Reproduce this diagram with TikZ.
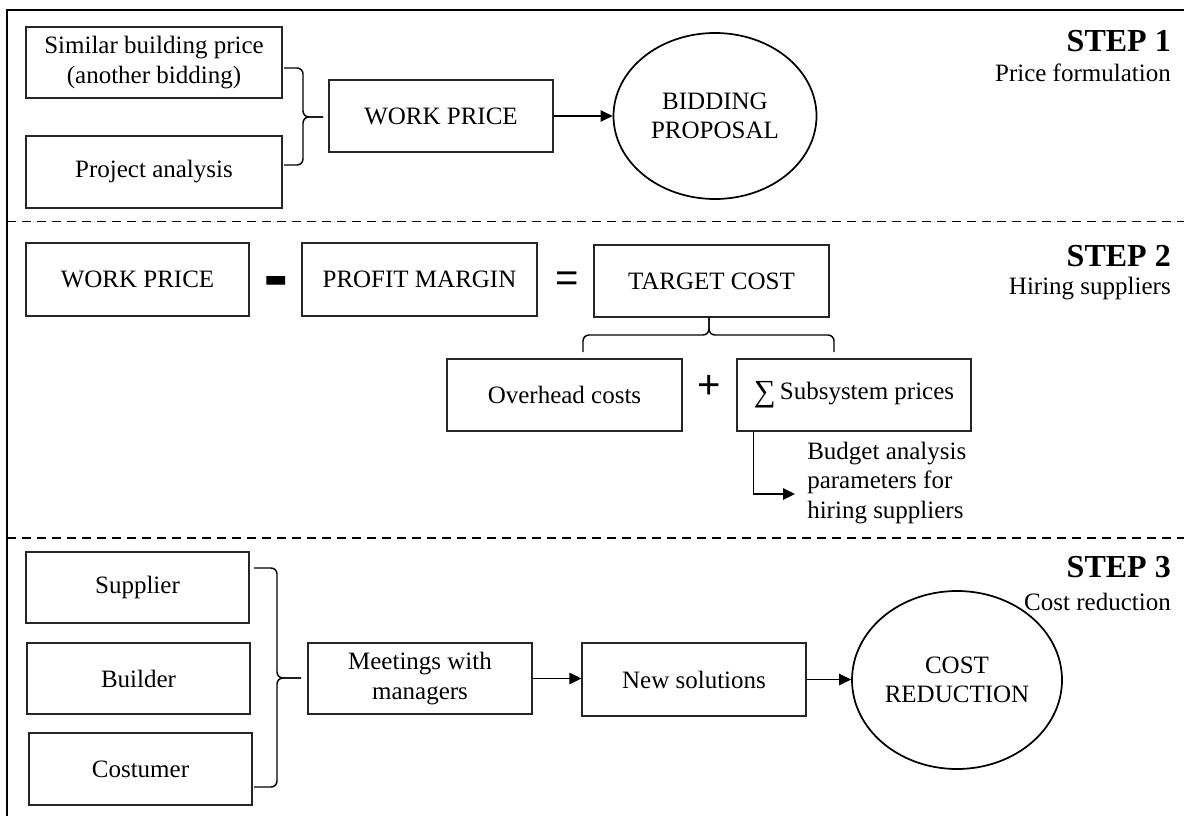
\documentclass[tikz,border=0pt]{standalone}
\usepackage{fontspec}
\setmainfont{Liberation Serif}
\newfontfamily\symsans{Liberation Sans}
\newfontfamily\symdv{DejaVu Sans}
\usetikzlibrary{arrows.meta,shapes.geometric,calc}
\newcommand{\px}{0.75pt}
\newcommand{\diabody}{\fontsize{18.75pt}{22pt}\selectfont}
\newcommand{\diastep}{\fontsize{24pt}{26pt}\selectfont\bfseries}
\begin{document}
\begin{tikzpicture}[x=0.75pt,y=-0.75pt,
  box/.style 2 args={draw=black!85,line width=0.8pt,fill=white,inner sep=0pt,
    align=center,font=\diabody,minimum width=#1*\px,minimum height=#2*\px},
  oval/.style 2 args={ellipse,draw=black,line width=1.3pt,inner sep=0pt,
    align=center,font=\diabody,minimum width=#1*\px,minimum height=#2*\px},
  arr/.style={line width=1.1pt,-{Triangle[length=9pt,width=8.5pt]}},
  brc/.style={line width=1.1pt,rounded corners=4.5pt},
  sep/.style={line width=1.1pt,dash pattern=on 6.75pt off 4.5pt},
  steplbl/.style={anchor=base east,font=\diastep,inner sep=0pt},
  stepsub/.style={anchor=base east,font=\diabody,inner sep=0pt}]
\useasboundingbox (0,0) rectangle (1184,816);
\fill[white] (0,0) rectangle (1184,816);
% frame
\draw[line width=1.5pt] (7,816) -- (7,10) -- (1184,10);
\draw[sep] (7,221.5) -- (1184,221.5);
\draw[sep] (7,538) -- (1184,538);

% ---- STEP 1
\node[box={256}{71}] (sim) at (154,62.5) {Similar building price\\(another bidding)};
\node[box={256}{72}] (proj) at (154,172) {Project analysis};
\node[box={224}{72}] (wp1) at (441,116) {WORK PRICE};
\node[oval={203}{166}] (bid) at (715,116) {BIDDING\\PROPOSAL};
\coordinate (b1a) at (284,68);
\coordinate (b1m) at (303,117);
\coordinate (b1t) at (323,117);
\coordinate (b1b) at (284,165);
\draw[brc] (b1a) -| (b1m) -- (b1t);
\draw[brc] (b1t) -- (b1m) |- (b1b);
\draw[arr] (wp1) -- (bid);
\node[steplbl] (s1) at (1171,52) {STEP 1};
\node[stepsub] (s1t) at (1171,82) {Price formulation};

% ---- STEP 2
\node[box={223}{73}] (wp2) at (137.5,279.5) {WORK PRICE};
\node[font=\symdv\bfseries\fontsize{46pt}{46pt}\selectfont,inner sep=0pt] (minus) at (276,287) {-};
\node[box={235}{73}] (pm) at (419.5,279.5) {PROFIT MARGIN};
\node[font=\symsans\fontsize{30pt}{30pt}\selectfont,inner sep=0pt] (eq) at (567,282) {=};
\node[box={235}{72}] (tc) at (711.5,281) {TARGET COST};
\node[box={235}{72}] (oh) at (564.5,395) {Overhead costs};
\node[font=\symsans\fontsize{30pt}{30pt}\selectfont,inner sep=0pt] (plus) at (709,387) {+};
\node[box={234}{72}] (sum) at (854,395) {\raisebox{-1.5pt}{\fontsize{23pt}{22pt}\selectfont ∑}\,Subsystem prices};
\coordinate (b2a) at (583,352);
\coordinate (b2m) at (709,335);
\coordinate (b2t) at (709,317);
\coordinate (b2b) at (834,352);
\draw[brc] (b2a) |- (b2m) -- (b2t);
\draw[brc] (b2t) -- (b2m) -| (b2b);
\node[anchor=west,align=left,font=\diabody,inner sep=0pt] (bud) at (807,483)
  {Budget analysis\\parameters for\\hiring suppliers};
\coordinate (budin) at ($(bud.west)+(-12,11)$);
\draw[arr] ($(sum.south west)+(17,0)$) |- (budin);
\node[steplbl] (s2) at (1171,267) {STEP 2};
\node[stepsub] (s2t) at (1171,295) {Hiring suppliers};

% ---- STEP 3
\node[box={223}{71}] (sup) at (137.5,587.5) {Supplier};
\node[box={223}{71}] (bld) at (138.5,678.5) {Builder};
\node[box={223}{72}] (cst) at (140.5,769) {Costumer};
\node[box={224}{71}] (meet) at (420,678.5) {Meetings with\\managers};
\node[box={224}{73}] (new) at (694,679.5) {New solutions};
\node[oval={210}{178}] (cr) at (957,680) {COST\\REDUCTION};
\coordinate (b3a) at (254,568);
\coordinate (b3m) at (277,678);
\coordinate (b3t) at (301,678);
\coordinate (b3b) at (254,787);
\draw[brc] (b3a) -| (b3m) -- (b3t);
\draw[brc] (b3t) -- (b3m) |- (b3b);
\draw[arr] (meet.east) -- (meet.east -| new.west);
\draw[arr] (new.east) -- (new.east -| cr.west);
\node[steplbl] (s3) at (1171,577) {STEP 3};
\node[stepsub] (s3t) at (1171,610) {Cost reduction};
\end{tikzpicture}
\end{document}
